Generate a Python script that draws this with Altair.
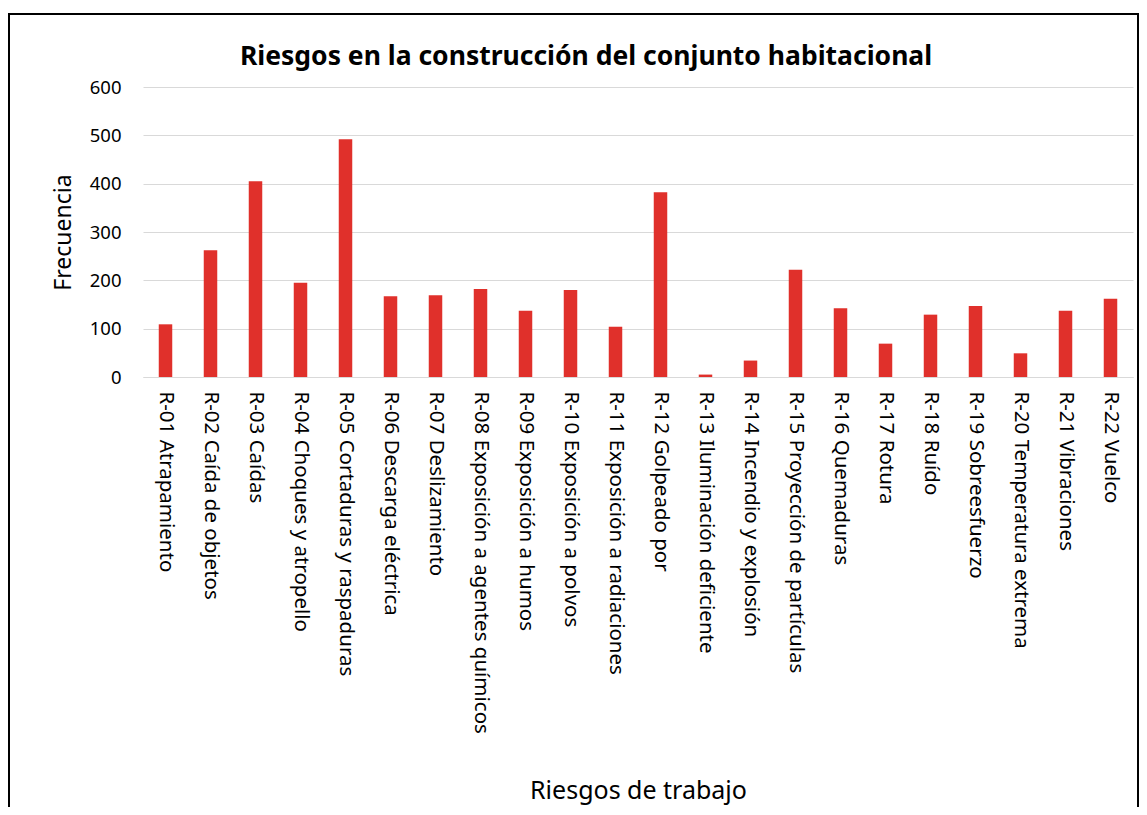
import altair as alt
import pandas as pd

codes = ["R-01 Atrapamiento", "R-02 Caída de objetos", "R-03 Caídas", "R-04 Choques y atropello",
         "R-05 Cortaduras y raspaduras", "R-06 Descarga eléctrica", "R-07 Deslizamiento",
         "R-08 Exposición a agentes químicos", "R-09 Exposición a humos", "R-10 Exposición a polvos",
         "R-11 Exposición a radiaciones", "R-12 Golpeado por", "R-13 Iluminación deficiente",
         "R-14 Incendio y explosión", "R-15 Proyección de partículas", "R-16 Quemaduras",
         "R-17 Rotura", "R-18 Ruído", "R-19 Sobreesfuerzo", "R-20 Temperatura extrema",
         "R-21 Vibraciones", "R-22 Vuelco"]
frecuencia = [109, 262, 405, 195, 492, 167, 169, 182, 137, 180, 104,
              382, 5, 34, 222, 142, 69, 129, 147, 49, 137, 162]

df = pd.DataFrame({"riesgo": codes, "frecuencia": frecuencia})

FONT = "Noto Sans"

bars = alt.Chart(df).mark_bar(color="#E0302B").encode(
    x=alt.X("riesgo:N", sort=codes,
            scale=alt.Scale(paddingInner=0.7, paddingOuter=0.35),
            axis=alt.Axis(title="Riesgos de trabajo", labelAngle=90, labelFontSize=20.5,
                          labelFont=FONT, labelColor="#000000", labelPadding=14,
                          ticks=False, domain=True, domainColor="#d9d9d9",
                          titleFont=FONT, titleFontSize=25, titleFontWeight="normal",
                          titleColor="#000000", titleY=413, titleBaseline="middle",
                          labelLimit=600)),
    y=alt.Y("frecuencia:Q", scale=alt.Scale(domain=[0, 600]),
            axis=alt.Axis(title="Frecuencia", values=[0, 100, 200, 300, 400, 500, 600],
                          labelFont=FONT, labelFontSize=18.5, labelColor="#000000",
                          labelPadding=22, ticks=False, domain=False,
                          gridColor="#d9d9d9", gridWidth=1.2,
                          titleFont=FONT, titleFontSize=23, titleFontWeight="normal",
                          titleColor="#000000", titlePadding=14)),
)

border = alt.Chart(df).mark_rect(fill=None, stroke="#000000", strokeWidth=2).encode(
    x=alt.value(-134), x2=alt.value(995), y=alt.value(-73), y2=alt.value(740)
)

chart = alt.layer(bars, border).properties(
    width=990, height=290,
    padding={"left": 135, "top": 79, "right": 6, "bottom": 430},
    autosize=alt.AutoSizeParams(type="none"),
    title=alt.TitleParams("Riesgos en la construcción del conjunto habitacional",
                          font=FONT, fontSize=26.5, fontWeight="bold", color="#000000",
                          anchor="middle", frame="group", dx=-52, offset=-57),
).configure_view(stroke=None)

chart.save("out.html", embed_options={"renderer": "svg", "actions": False})
